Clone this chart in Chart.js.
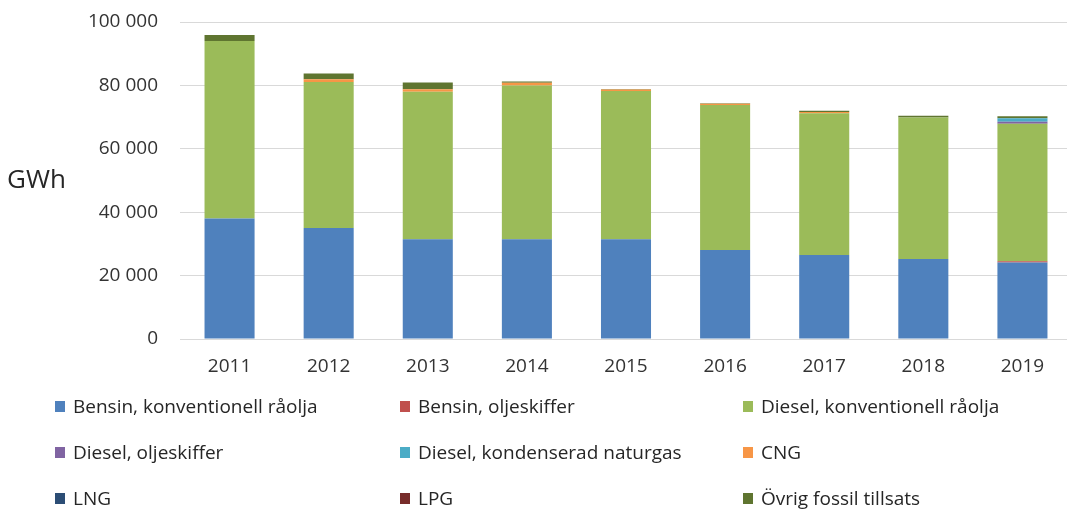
<!DOCTYPE html>
<html>
<head>
<meta charset="utf-8">
<script src="https://cdn.jsdelivr.net/npm/chart.js@4/dist/chart.umd.min.js"></script>
<style>
    html, body { margin: 0; padding: 0; background: #ffffff; overflow: hidden; }
    body { width: 1067px; height: 509px; position: relative; font-family: 'Open Sans', sans-serif; }
    #chartFuel { position: absolute; left: 0; top: 0; }
    #legend {
        position: absolute; left: 55px; top: 383px;
        display: grid; grid-template-columns: 345px 343px 300px; grid-auto-rows: 46px;
        color: #262626; font-size: 19px;
    }
    .item { display: flex; align-items: center; white-space: nowrap; }
    .box { width: 10px; height: 11px; margin-right: 8px; flex: none; }
</style>
</head>
<body>
<canvas id="chartFuel" width="1072" height="390"></canvas>
<div id="legend"></div>
<script>
const years = ['2011', '2012', '2013', '2014', '2015', '2016', '2017', '2018', '2019'];

const bensinKonv = [38000, 35000, 31500, 31500, 31500, 28100, 26500, 25200, 24100];
const bensinOlj = [0, 0, 0, 0, 0, 0, 0, 0, 400];
const dieselKonv = [56000, 46100, 46500, 48500, 46700, 45700, 44700, 44700, 43400];
const dieselOlj = [0, 0, 0, 0, 0, 0, 0, 0, 600];
const dieselKond = [0, 0, 0, 0, 0, 0, 0, 0, 1150];
const cng = [0, 850, 750, 800, 500, 400, 400, 0, 0];
const lng = [0, 0, 0, 0, 0, 0, 0, 0, 0];
const lpg = [0, 0, 0, 0, 0, 0, 0, 0, 0];
const ovrig = [1900, 1800, 2200, 450, 200, 200, 400, 500, 600];

const series = [
    { label: 'Bensin, konventionell råolja', data: bensinKonv, color: '#4f81bd' },
    { label: 'Bensin, oljeskiffer', data: bensinOlj, color: '#c0504d' },
    { label: 'Diesel, konventionell råolja', data: dieselKonv, color: '#9bbb59' },
    { label: 'Diesel, oljeskiffer', data: dieselOlj, color: '#8064a2' },
    { label: 'Diesel, kondenserad naturgas', data: dieselKond, color: '#4bacc6' },
    { label: 'CNG', data: cng, color: '#f79646' },
    { label: 'LNG', data: lng, color: '#2c4d75' },
    { label: 'LPG', data: lpg, color: '#772c2a' },
    { label: 'Övrig fossil tillsats', data: ovrig, color: '#5f7530' }
];

const textColor = '#333333';
const gridColor = '#d9d9d9';

// "GWh" sits horizontally left of the axis, so draw it by hand
const unitLabel = {
    id: 'unitLabel',
    afterDraw(chart) {
        const ctx = chart.ctx;
        ctx.save();
        ctx.fillStyle = '#262626';
        ctx.font = '26px "Open Sans"';
        ctx.textAlign = 'left';
        ctx.textBaseline = 'alphabetic';
        ctx.fillText('GWh', 7, 188);
        ctx.restore();
    }
};

const chart = new Chart(document.getElementById('chartFuel'), {
    type: 'bar',
    data: {
        labels: years,
        datasets: series.map(s => ({
            label: s.label,
            data: s.data,
            backgroundColor: s.color,
            borderWidth: 0
        }))
    },
    options: {
        responsive: false,
        animation: false,
        layout: { padding: { top: 0, right: 0, bottom: 0, left: 0 } },
        plugins: {
            legend: { display: false },
            tooltip: { enabled: false }
        },
        datasets: {
            bar: { categoryPercentage: 1, barPercentage: 0.505 }
        },
        scales: {
            x: {
                stacked: true,
                grid: { display: false, drawTicks: false },
                border: { display: true, color: gridColor, width: 1 },
                ticks: { color: textColor, font: { family: 'Open Sans', size: 19 }, padding: 16 },
                afterFit(scale) { scale.height = 51; }
            },
            y: {
                stacked: true,
                min: 0,
                max: 100000,
                grid: { color: gridColor, lineWidth: 1, drawTicks: false },
                border: { display: false },
                ticks: {
                    stepSize: 20000,
                    color: textColor,
                    padding: 22,
                    font: { family: 'Open Sans', size: 19 },
                    callback: v => String(v).replace(/\B(?=(\d{3})+(?!\d))/g, ' ')
                },
                afterFit(scale) {
                    scale.width = 180;
                    scale.paddingTop = 22;
                }
            }
        }
    },
    plugins: [unitLabel]
});

// legend in a 3-column grid, like the original
const legendEl = document.getElementById('legend');
chart.data.datasets.forEach(ds => {
    const item = document.createElement('div');
    item.className = 'item';
    const box = document.createElement('span');
    box.className = 'box';
    box.style.background = ds.backgroundColor;
    const txt = document.createElement('span');
    txt.textContent = ds.label;
    item.appendChild(box);
    item.appendChild(txt);
    legendEl.appendChild(item);
});
</script>
</body>
</html>
